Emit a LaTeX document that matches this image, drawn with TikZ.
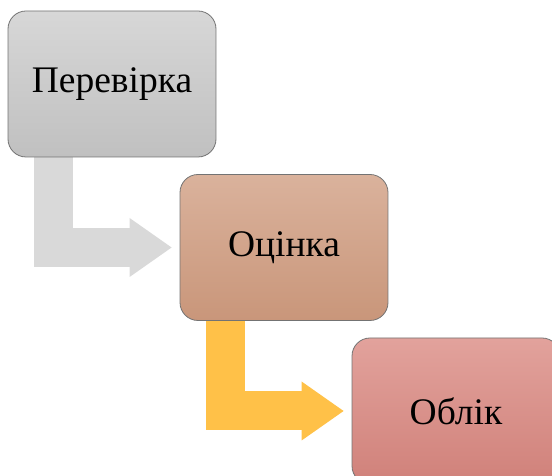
\documentclass[tikz,border=0pt]{standalone}
\usepackage{fontspec}
\setmainfont{Liberation Serif}
\usetikzlibrary{arrows.meta,backgrounds}
\definecolor{pertop}{RGB}{215,215,215}
\definecolor{perbot}{RGB}{192,192,192}
\definecolor{otstop}{RGB}{218,178,156}
\definecolor{otsbot}{RGB}{201,150,122}
\definecolor{obltop}{RGB}{226,162,156}
\definecolor{oblbot}{RGB}{208,129,122}
\definecolor{lkgrey}{RGB}{217,217,217}
\definecolor{lkgold}{RGB}{255,193,72}
\begin{document}
\begin{tikzpicture}
  [x=1pt,y=1pt,
  every node/.style={font=\fontsize{37.5}{45}\selectfont},
  bx/.style={rounded corners=18pt,minimum width=208pt,minimum height=146pt,
    draw=black!55,line width=.8pt,shading angle=0},
  lk/.style={line width=39pt,shorten >=8pt,
    -{Triangle[length=42pt,width=59pt,line width=0pt]}}]
  \def\dx{172}
  \def\dy{163.5}
  \useasboundingbox (0,0) rectangle (552,476);
  \node[bx,top color=pertop,bottom color=perbot] (PER) at (112,392) {Перевірка};
  \node[bx,top color=otstop,bottom color=otsbot] (OTS) at ([shift={(\dx,-\dy)}]PER.center) {Оцінка};
  \node[bx,top color=obltop,bottom color=oblbot] (OBL) at ([shift={(\dx,-\dy)}]OTS.center) {Облік};

  \begin{scope}[on background layer]
    \draw[lk,lkgrey] ([xshift=45.5pt]PER.south west) |- (OTS.west);
    \draw[lk,lkgold] ([xshift=45.5pt]OTS.south west) |- (OBL.west);
  \end{scope}
\end{tikzpicture}
\end{document}
